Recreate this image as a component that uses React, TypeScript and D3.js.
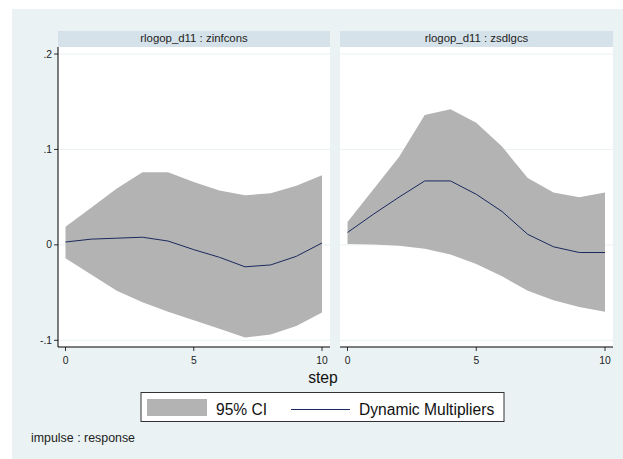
import * as d3 from "d3";
import React from "react";

// impulse-response steps
const steps = [0, 1, 2, 3, 4, 5, 6, 7, 8, 9, 10];

// rlogop_d11 : zinfcons
const zinfIrf = [0.003, 0.006, 0.007, 0.008, 0.004, -0.005, -0.013, -0.023, -0.021, -0.012, 0.002];
const zinfUpper = [0.019, 0.039, 0.059, 0.076, 0.076, 0.066, 0.057, 0.052, 0.054, 0.062, 0.073];
const zinfLower = [-0.014, -0.031, -0.048, -0.06, -0.07, -0.079, -0.088, -0.097, -0.094, -0.085, -0.071];

// rlogop_d11 : zsdlgcs
const zsdIrf = [0.013, 0.032, 0.05, 0.067, 0.067, 0.053, 0.035, 0.011, -0.002, -0.008, -0.008];
const zsdUpper = [0.024, 0.058, 0.092, 0.136, 0.142, 0.128, 0.103, 0.07, 0.055, 0.05, 0.055];
const zsdLower = [0.001, 0.0005, -0.001, -0.004, -0.01, -0.02, -0.033, -0.048, -0.058, -0.065, -0.07];

const yTicks = [-0.1, 0, 0.1, 0.2];
const yTickLabels = ["-.1", "0", ".1", ".2"];
const xTicks = [0, 5, 10];

const panels = [
  { title: "rlogop_d11 : zinfcons", irf: zinfIrf, upper: zinfUpper, lower: zinfLower, left: 58, right: 330 },
  { title: "rlogop_d11 : zsdlgcs", irf: zsdIrf, upper: zsdUpper, lower: zsdLower, left: 340, right: 613 },
];

const FONT = "'Liberation Sans', Arial, Helvetica, sans-serif";
const BG = "#eaf2f3";
const STRIP = "#d6e2e9";
const CI_FILL = "#b3b3b3";
const LINE = "#1b2a5e";

const STRIP_TOP = 31;
const PLOT_TOP = 47;
const PLOT_BOTTOM = 347;

const y = d3.scaleLinear().domain([-0.1, 0.2]).range([340.3, 54]);

export default function App() {
  return (
    <svg width={623} height={459} style={{ display: "block", position: "absolute", left: 0, top: 0 }}>
      <rect x={0} y={0} width={623} height={459} fill="#fff" />
      <rect x={12} y={9} width={611} height={450} fill={BG} />

      {panels.map((p, pi) => {
        // x range padded a bit inside the plot region like Stata
        const x = d3.scaleLinear().domain([0, 10]).range([p.left + 7.5, p.right - 8]);
        const area = d3
          .area<number>()
          .x((s) => x(s))
          .y0((_, i) => y(p.lower[i]))
          .y1((_, i) => y(p.upper[i]));
        const line = d3
          .line<number>()
          .x((s) => x(s))
          .y((_, i) => y(p.irf[i]));

        return (
          <g key={p.title}>
            <rect x={p.left} y={STRIP_TOP} width={p.right - p.left} height={PLOT_TOP - STRIP_TOP} fill={STRIP} />
            <text x={(p.left + p.right) / 2} y={42} textAnchor="middle" fontFamily={FONT} fontSize={11.4} fill="#222">
              {p.title}
            </text>
            <rect x={p.left} y={PLOT_TOP} width={p.right - p.left} height={PLOT_BOTTOM - PLOT_TOP} fill="#fff" />
            {yTicks.map((t) => (
              <line key={t} x1={p.left} x2={p.right} y1={y(t)} y2={y(t)} stroke={BG} strokeWidth={1} />
            ))}
            <path d={area(steps) ?? ""} fill={CI_FILL} stroke="none" />
            <path d={line(steps) ?? ""} fill="none" stroke={LINE} strokeWidth={1} />

            {/* x axis */}
            <line x1={p.left} x2={p.right} y1={PLOT_BOTTOM} y2={PLOT_BOTTOM} stroke="#000" strokeWidth={1} />
            {xTicks.map((t) => (
              <g key={t}>
                <line x1={x(t)} x2={x(t)} y1={PLOT_BOTTOM} y2={PLOT_BOTTOM + 4} stroke="#000" strokeWidth={0.8} />
                <text x={x(t)} y={364} textAnchor="middle" fontFamily={FONT} fontSize={10.3} fill="#222">
                  {t}
                </text>
              </g>
            ))}

            {/* y axis only on first panel */}
            {pi === 0 && (
              <g>
                <line x1={p.left} x2={p.left} y1={PLOT_TOP} y2={PLOT_BOTTOM} stroke="#000" strokeWidth={1} />
                {yTicks.map((t, i) => (
                  <g key={t}>
                    <line x1={p.left - 4} x2={p.left} y1={y(t)} y2={y(t)} stroke="#000" strokeWidth={0.8} />
                    <text x={p.left - 6} y={y(t) + 3.6} textAnchor="end" fontFamily={FONT} fontSize={10.3} fill="#222">
                      {yTickLabels[i]}
                    </text>
                  </g>
                ))}
              </g>
            )}
          </g>
        );
      })}

      <text x={323} y={383} textAnchor="middle" fontFamily={FONT} fontSize={15.7} fill="#111">
        step
      </text>

      {/* legend */}
      <rect x={141} y={392.5} width={363} height={29} fill="#fff" stroke="#333" strokeWidth={1} />
      <rect x={147} y={399} width={60} height={17} fill={CI_FILL} />
      <text x={216} y={415} fontFamily={FONT} fontSize={15.6} fill="#111">
        95% CI
      </text>
      <line x1={291} x2={350} y1={409.5} y2={409.5} stroke={LINE} strokeWidth={1.2} />
      <text x={359} y={415} fontFamily={FONT} fontSize={15.6} fill="#111">
        Dynamic Multipliers
      </text>

      <text x={31} y={441.5} fontFamily={FONT} fontSize={12.4} fill="#222">
        impulse : response
      </text>
    </svg>
  );
}
